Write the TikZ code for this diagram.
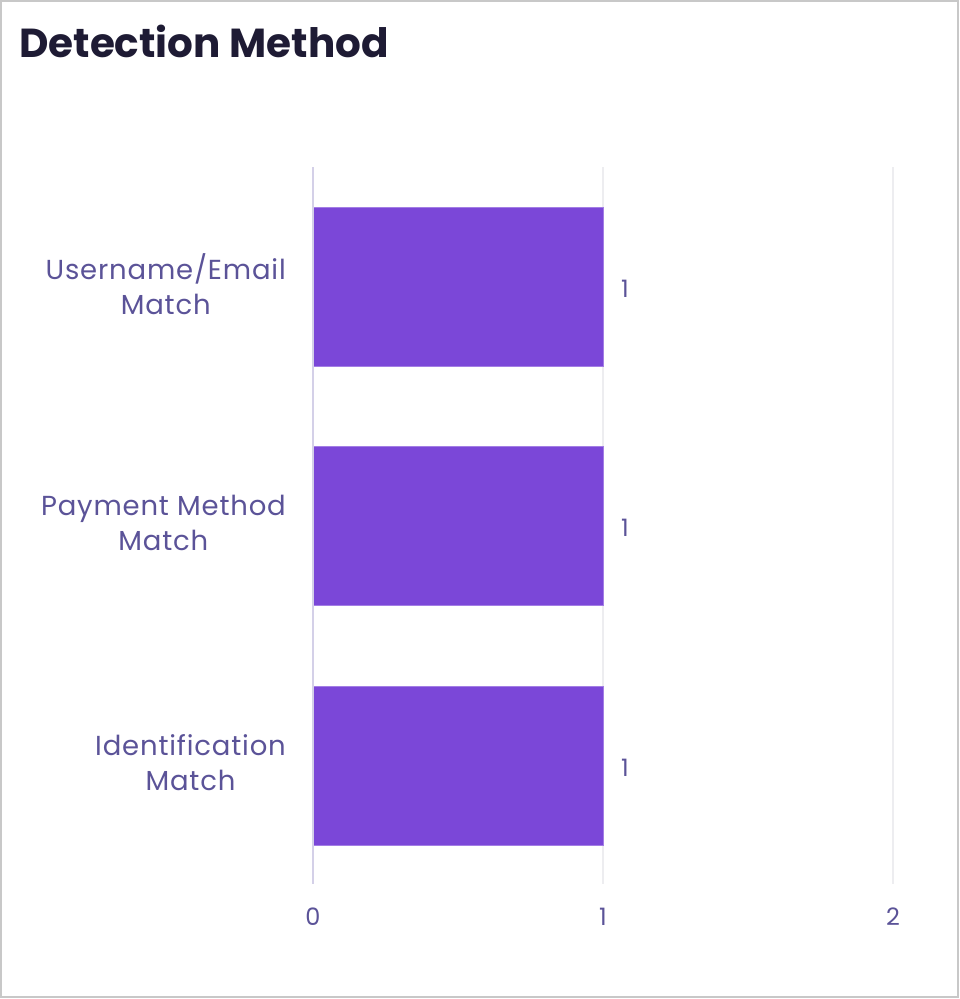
\documentclass[tikz,border=0pt]{standalone}
\usepackage{fontspec}
\setmainfont{Poppins}
\newfontfamily\widefont[LetterSpace=3]{Poppins}
\definecolor{barc}{HTML}{7B47D8}
\definecolor{txtc}{HTML}{5B5398}
\definecolor{titlec}{HTML}{1E1B34}
\definecolor{axisc}{HTML}{D4D0E8}
\definecolor{gridc}{HTML}{EDEDF0}
\definecolor{framec}{HTML}{C8C8C8}
\begin{document}
\begin{tikzpicture}[x=1pt,y=-1pt,
  bar/.style={fill=barc,draw=barc!70!white,line width=0.8pt},
  cat/.style={text=txtc,font=\widefont\fontsize{27.5}{35}\selectfont,align=center,anchor=east,inner sep=0pt},
  val/.style={text=txtc,font=\fontsize{24}{28}\selectfont,anchor=west,inner sep=0pt},
  tick/.style={text=txtc,font=\fontsize{24}{28}\selectfont,anchor=center,inner sep=0pt}]
\useasboundingbox (0,0) rectangle (960,999);
\draw[framec,line width=2pt] (1,1) rectangle (958,997);
\node[anchor=base west,inner sep=0pt,text=titlec,font=\fontsize{40.5}{48}\selectfont\bfseries] (title) at (19,57) {Detection Method};
% grid
\draw[gridc,line width=1.5pt] (603,167) -- (603,884);
\draw[gridc,line width=1.5pt] (893,167) -- (893,884);
% bars
\node[bar,minimum width=290pt,minimum height=159pt,anchor=north west,inner sep=0pt] (b1) at (313,207) {};
\node[bar,minimum width=290pt,minimum height=159pt,anchor=north west,inner sep=0pt] (b2) at (313,446) {};
\node[bar,minimum width=290pt,minimum height=159pt,anchor=north west,inner sep=0pt] (b3) at (313,686) {};
\draw[axisc,line width=1.5pt] (313,167) -- (313,884);
% category labels
\node[cat] (c1) at (286,284) {Username/Email\\Match};
\node[cat] (c2) at (286,523) {Payment Method\\Match};
\node[cat] (c3) at (286,763) {Identification\\Match};
% values
\node[val] (v1) at (621,289) {1};
\node[val] (v2) at (621,528) {1};
\node[val] (v3) at (621,768) {1};
% ticks
\node[tick] (t0) at (313,917) {0};
\node[tick] (t1) at (603,917) {1};
\node[tick] (t2) at (893,917) {2};
\end{tikzpicture}
\end{document}
